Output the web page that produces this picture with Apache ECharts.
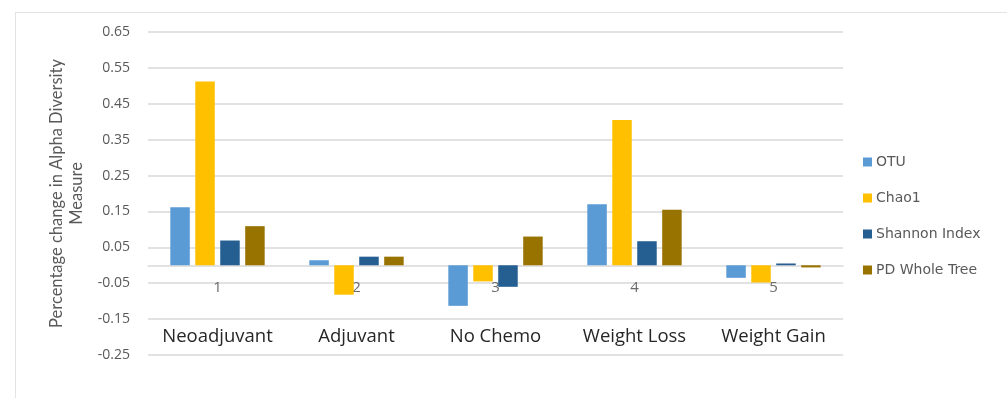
<!DOCTYPE html>
<html>
<head>
<meta charset="utf-8">
<script src="https://cdn.jsdelivr.net/npm/echarts@6/dist/echarts.min.js"></script>
<style>
  html, body { margin: 0; padding: 0; background: #fff; }
  #wrap { position: relative; width: 1007px; height: 398px; overflow: hidden; }
  #frame { position: absolute; left: 15px; top: 12px; right: -4px; bottom: -4px; border: 1.5px solid #e3e3e3; }
  #chart { position: absolute; left: 0; top: 0; width: 1007px; height: 398px; }
</style>
</head>
<body>
<div id="wrap">
  <div id="frame"></div>
  <div id="chart"></div>
</div>
<script>
// Group numbers shown at the zero line and the treatment names underneath
const groupNumbers = ['1', '2', '3', '4', '5'];
const groupNames = ['Neoadjuvant', 'Adjuvant', 'No Chemo', 'Weight Loss', 'Weight Gain'];

// Percentage change in each alpha diversity measure
const otu = [0.162, 0.014, -0.113, 0.170, -0.035];
const chao1 = [0.512, -0.082, -0.045, 0.405, -0.048];
const shannon = [0.069, 0.024, -0.060, 0.067, 0.005];
const pdWholeTree = [0.109, 0.024, 0.080, 0.155, -0.006];

const seriesNames = ['OTU', 'Chao1', 'Shannon Index', 'PD Whole Tree'];
const seriesColors = ['#5b9bd5', '#ffc000', '#255e91', '#997300'];
const seriesValues = [otu, chao1, shannon, pdWholeTree];

const yMin = -0.25;
const yMax = 0.65;

const chart = echarts.init(document.getElementById('chart'), null, { renderer: 'canvas' });

chart.setOption({
  animation: false,
  backgroundColor: 'transparent',
  grid: { left: 148, top: 32, width: 695, bottom: 43, containLabel: false },
  legend: {
    orient: 'vertical',
    left: 858,
    top: 150,
    itemWidth: 9,
    itemHeight: 9,
    itemGap: 22,
    icon: 'rect',
    textStyle: { fontFamily: 'DejaVu Sans', fontSize: 14, lineHeight: 14, color: '#595959', padding: [0, 0, 0, -1] },
    data: seriesNames
  },
  xAxis: [
    {
      // group numbers ride on the zero line (offset set below from the value scale)
      type: 'category',
      data: groupNumbers,
      position: 'bottom',
      axisLine: { onZero: false, lineStyle: { color: '#d9d9d9', width: 1.5 } },
      axisTick: { show: false },
      axisLabel: { interval: 0, hideOverlap: false, color: '#6b6b6b', fontFamily: 'Open Sans', fontSize: 15, margin: 15 },
      splitLine: { show: false }
    },
    {
      // treatment names sit inside the plot, just above the lowest gridline
      type: 'category',
      data: groupNames,
      position: 'top',
      offset: -320,
      axisLine: { show: false, onZero: false },
      axisTick: { show: false },
      axisLabel: { interval: 0, hideOverlap: false, color: '#262626', fontFamily: 'Open Sans', fontSize: 18.5, margin: 6 },
      splitLine: { show: false }
    }
  ],
  yAxis: {
    type: 'value',
    min: yMin,
    max: yMax,
    interval: 0.1,
    name: 'Percentage change in Alpha Diversity\nMeasure',
    nameLocation: 'middle',
    nameRotate: 90,
    nameGap: 61,
    nameTextStyle: { color: '#595959', fontFamily: 'Lato', fontSize: 16.5, lineHeight: 20 },
    axisLine: { show: false },
    axisTick: { show: false },
    axisLabel: {
      color: '#595959',
      fontFamily: 'Open Sans',
      fontSize: 14,
      margin: 18,
      formatter: v => v.toFixed(2)
    },
    splitLine: { lineStyle: { color: '#d9d9d9', width: 1.5 } }
  },
  series: seriesNames.map((name, i) => ({
    name: name,
    type: 'bar',
    xAxisIndex: 0,
    data: seriesValues[i],
    barWidth: 19.5,
    barGap: '28%',
    itemStyle: { color: seriesColors[i] }
  }))
});

// lift the numbered category axis from the plot bottom up to the zero line
const zeroY = chart.convertToPixel({ yAxisIndex: 0 }, 0);
const bottomY = chart.convertToPixel({ yAxisIndex: 0 }, yMin);
chart.setOption({ xAxis: [{ offset: zeroY - bottomY }, {}] });
</script>
</body>
</html>
